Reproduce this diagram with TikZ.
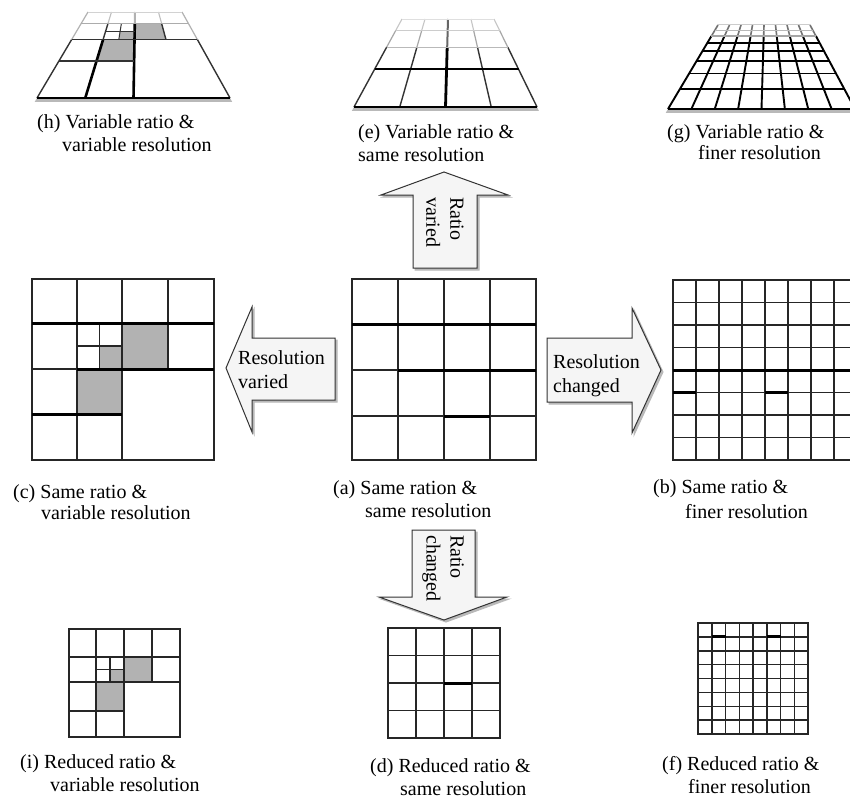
\documentclass[tikz,border=0pt]{standalone}
\usepackage{fontspec}
\setmainfont{Liberation Serif}
\newcommand\setplate[6]{\def\pxbl{#1}\def\pxbr{#2}\def\pxtl{#3}\def\pxtr{#4}\def\pyb{#5}\def\pyt{#6}}
\newcommand\ptat[3]{%
 \pgfmathsetmacro\tmpxl{\pxbl+(\pxtl-\pxbl)*(#2)}%
 \pgfmathsetmacro\tmpxr{\pxbr+(\pxtr-\pxbr)*(#2)}%
 \pgfmathsetmacro\tmpx{\tmpxl+(#1)*(\tmpxr-\tmpxl)}%
 \pgfmathsetmacro\tmpy{\pyb+(\pyt-\pyb)*(#2)}%
 \coordinate (#3) at (\tmpx,\tmpy);}
\newcommand\pseg[5][]{\ptat{#2}{#3}{pA}\ptat{#4}{#5}{pB}\draw[#1] (pA) -- (pB);}
\newcommand\pquad[5][]{\ptat{#2}{#3}{qA}\ptat{#4}{#3}{qB}\ptat{#4}{#5}{qC}\ptat{#2}{#5}{qD}\fill[#1] (qA)--(qB)--(qC)--(qD)--cycle;}
\begin{document}
\begin{tikzpicture}[x=1pt,y=-1pt,
  gl/.style={line width=1.5pt, black!85},
  gthick/.style={line width=3pt, black},
  cellfill/.style={fill=gray!60},
  blockarrow/.style={fill=gray!8, draw=black!80, line width=1pt, line join=miter},
  arrowshadow/.style={fill=gray!55, draw=gray!55, line width=1pt, line join=miter},
  lbl/.style={anchor=base west, inner sep=0, font=\fontsize{20}{23}\selectfont},
  arrtxt/.style={align=left, inner sep=0, font=\fontsize{20}{24}\selectfont},
  band/.style={fill=gray!55},
  pl/.style={line width=1.4pt, black!80}]
\useasboundingbox (0,0) rectangle (850,800);
\fill[white] (0,0) rectangle (850,800);
\begin{scope}
\clip (0,0) rectangle (850,800);

% ---------- (h) perspective, variable ratio & variable resolution
\setplate{37}{230}{88}{182}{98}{12}
\pquad[cellfill]{.25}{.43}{.5}{.68}
\pquad[cellfill]{.5}{.68}{.75}{.87}
\pquad[cellfill]{.375}{.68}{.5}{.775}
\pquad[band]{0}{0}{1}{-0.045}
\pseg[pl]{0}{0}{0}{.68}\pseg[gray!60,line width=1.2pt]{0}{.68}{0}{1}
\pseg[pl]{1}{0}{1}{.68}\pseg[gray!60,line width=1.2pt]{1}{.68}{1}{1}
\pseg[line width=2.6pt]{.25}{0}{.25}{.68}
\pseg[pl]{.25}{.68}{.25}{.87}\pseg[gray!50,line width=1.1pt]{.25}{.87}{.25}{1}
\pseg[line width=2.6pt]{.5}{0}{.5}{.87}\pseg[gray!60,line width=2pt]{.5}{.87}{.5}{1}
\pseg[pl]{.75}{.68}{.75}{.87}\pseg[gray!50,line width=1.1pt]{.75}{.87}{.75}{1}
\pseg[pl,line width=1pt]{.375}{.68}{.375}{.87}
\pseg[pl]{0}{.43}{.5}{.43}
\pseg[pl]{0}{.68}{1}{.68}
\pseg[pl,line width=1pt]{.25}{.775}{.5}{.775}
\pseg[gray!65,line width=1.1pt]{0}{.87}{1}{.87}
\pseg[gray!35,line width=0.9pt]{0}{1}{1}{1}
\pseg[line width=1.6pt]{0}{0}{1}{0}

% ---------- (e) perspective, variable ratio & same resolution
\setplate{354}{537}{402}{494}{107}{19}
\pquad[band]{0}{0}{1}{-0.045}
\foreach \u in {0,.25,.75,1}{
  \pseg[pl]{\u}{0}{\u}{.68}
  \pseg[gray!70,line width=1.2pt]{\u}{.68}{\u}{.87}
  \pseg[gray!45,line width=1.1pt]{\u}{.87}{\u}{1}
}
\pseg[line width=2.8pt]{.5}{0}{.5}{.68}
\pseg[black!60,line width=2pt]{.5}{.68}{.5}{1}
\pseg[line width=2.6pt]{0}{.43}{1}{.43}
\pseg[gray!55,line width=1.1pt]{0}{.68}{1}{.68}
\pseg[gray!40,line width=1pt]{0}{.87}{1}{.87}
\pseg[gray!25,line width=0.8pt]{0}{1}{1}{1}
\pseg[line width=1.6pt]{0}{0}{1}{0}

% ---------- (g) perspective, variable ratio & finer resolution
\setplate{668}{855}{718}{810}{109}{25}
\pquad[band]{0}{0}{1}{-0.045}
\foreach \k in {0,...,8}{
  \pgfmathsetmacro\uu{\k/8}
  \pseg[black,line width=1.9pt]{\uu}{0}{\uu}{.868}
  \pseg[black!55,line width=1.6pt]{\uu}{.868}{\uu}{1}
}
\pseg[black,line width=2.8pt]{0}{.239}{1}{.239}
\foreach \t in {.423,.569,.6875,.786}{\pseg[black,line width=1.9pt]{0}{\t}{1}{\t}}
\pseg[gray!70,line width=1.5pt]{0}{.868}{1}{.868}
\pseg[gray!55,line width=1.2pt]{0}{.939}{1}{.939}
\pseg[gray!40,line width=1pt]{0}{1}{1}{1}
\pseg[line width=1.9pt]{0}{0}{1}{0}

% ---------- labels top row
\node[lbl] (lh1) at (37,128) {(h) Variable ratio \&};
\node[lbl] (lh2) at (62,151) {variable resolution};
\node[lbl] (le1) at (358,138) {(e) Variable ratio \&};
\node[lbl] (le2) at (358,161) {same resolution};
\node[lbl] (lg1) at (667,138) {(g) Variable ratio \&};
\node[lbl] (lg2) at (698,159) {finer resolution};

% ---------- (c) same ratio & variable resolution
\fill[cellfill] (122,323) rectangle (168,369);
\fill[cellfill] (77,369) rectangle (122,414);
\fill[cellfill] (99.5,346) rectangle (122,369);
\draw[gl] (32,279) rectangle (214,460);
\draw[gl] (77,279) -- (77,460);
\draw[gl] (122,279) -- (122,460);
\draw[gl] (168,279) -- (168,369);
\draw[gl] (99.5,323) -- (99.5,369) (77,346) -- (122,346);
\draw[gthick] (32,323) -- (214,323);
\draw[gl] (32,369) -- (77,369);
\draw[gthick] (77,369) -- (214,369);
\draw[gthick] (32,414) -- (122,414);
\node[lbl] (lc1) at (13,498) {(c) Same ratio \&};
\node[lbl] (lc2) at (41,519) {variable resolution};

% ---------- (a) same ratio & same resolution
\draw[gl] (352,279) rectangle (536,460);
\foreach \x in {398,444,490} \draw[gl] (\x,279) -- (\x,460);
\draw[gthick] (352,324) -- (536,324);
\draw[gl] (352,370) -- (398,370);
\draw[gthick] (398,370) -- (536,370);
\draw[gl] (352,416) -- (444,416) (490,416) -- (536,416);
\draw[gthick] (444,416) -- (490,416);
\node[lbl] (la1) at (333,494) {(a) Same ration \&};
\node[lbl] (la2) at (365,517) {same resolution};

% ---------- (b) same ratio & finer resolution
\draw[gl] (673,280) rectangle (857,460);
\foreach \k in {1,...,7}{
  \draw[gl] ({673+23*\k},280) -- ({673+23*\k},460);
  \draw[gl] (673,{280+22.5*\k}) -- (857,{280+22.5*\k});
}
\draw[gthick] (673,370) -- (857,370);
\draw[gthick] (673,392.5) -- (696,392.5) (765,392.5) -- (788,392.5);
\node[lbl] (lb1) at (653,493) {(b) Same ratio \&};
\node[lbl] (lb2) at (685,518) {finer resolution};

% ---------- block arrows
% up: Ratio varied
\draw[arrowshadow] (415,270) -- (415,197) -- (383,197) -- (446,174) -- (510,197) -- (479,197) -- (479,270) -- cycle;
\draw[blockarrow] (413,268) -- (413,195) -- (381,195) -- (444,172) -- (508,195) -- (477,195) -- (477,268) -- cycle;
\node[arrtxt, rotate=-90, anchor=west] (tup) at (445,197) {Ratio\\varied};
% left: Resolution varied
\draw[arrowshadow] (337,340) -- (254,340) -- (254,309) -- (228,370) -- (254,434) -- (254,402) -- (337,402) -- cycle;
\draw[blockarrow] (335,338) -- (252,338) -- (252,307) -- (226,368) -- (252,432) -- (252,400) -- (335,400) -- cycle;
\node[arrtxt, anchor=west] (tleft) at (238,369.5) {Resolution\\varied};
% right: Resolution changed
\draw[arrowshadow] (549,340) -- (634,340) -- (634,310) -- (663,372) -- (634,435) -- (634,404) -- (549,404) -- cycle;
\draw[blockarrow] (547,338) -- (632,338) -- (632,308) -- (661,370) -- (632,433) -- (632,402) -- (547,402) -- cycle;
\node[arrtxt, anchor=west] (tright) at (553,376) {Resolution\\changed};
% down: Ratio changed
\draw[arrowshadow] (414,532) -- (477,532) -- (477,599) -- (509,599) -- (446,622) -- (381,599) -- (414,599) -- cycle;
\draw[blockarrow] (412,530) -- (475,530) -- (475,597) -- (507,597) -- (444,620) -- (379,597) -- (412,597) -- cycle;
\node[arrtxt, rotate=-90, anchor=west] (tdown) at (443,535) {Ratio\\changed};

% ---------- (i) reduced ratio & variable resolution
\fill[cellfill] (124,657) rectangle (152,682);
\fill[cellfill] (96,682) rectangle (124,711);
\fill[cellfill] (110,669.5) rectangle (124,682);
\draw[gl] (69,629) rectangle (180,737);
\draw[gl] (96,629) -- (96,737);
\draw[gl] (124,629) -- (124,737);
\draw[gl] (152,629) -- (152,682);
\draw[gl] (110,657) -- (110,682) (96,669.5) -- (124,669.5);
\draw[gl] (69,657) -- (180,657);
\draw[gl] (69,682) -- (180,682);
\draw[gl] (69,711) -- (124,711);
\node[lbl] (li1) at (20,768) {(i) Reduced ratio \&};
\node[lbl] (li2) at (50,791) {variable resolution};

% ---------- (d) reduced ratio & same resolution
\draw[gl] (388,628) rectangle (500,738);
\foreach \x in {416,444,472} \draw[gl] (\x,628) -- (\x,738);
\foreach \y in {655.5,683,710.5} \draw[gl] (388,\y) -- (500,\y);
\draw[gthick] (444,683) -- (472,683);
\node[lbl] (ld1) at (370,772) {(d) Reduced ratio \&};
\node[lbl] (ld2) at (400,795) {same resolution};

% ---------- (f) reduced ratio & finer resolution
\draw[gl] (698,623) rectangle (808,734);
\foreach \k in {1,...,7}{
  \draw[gl] ({698+13.75*\k},623) -- ({698+13.75*\k},734);
  \draw[gl] (698,{623+13.875*\k}) -- (808,{623+13.875*\k});
}
\draw[gthick] (711.75,636.875) -- (725.5,636.875) (766.75,636.875) -- (780.5,636.875);
\node[lbl] (lf1) at (662,770) {(f) Reduced ratio \&};
\node[lbl] (lf2) at (688,793) {finer resolution};
\end{scope}
\end{tikzpicture}
\end{document}
